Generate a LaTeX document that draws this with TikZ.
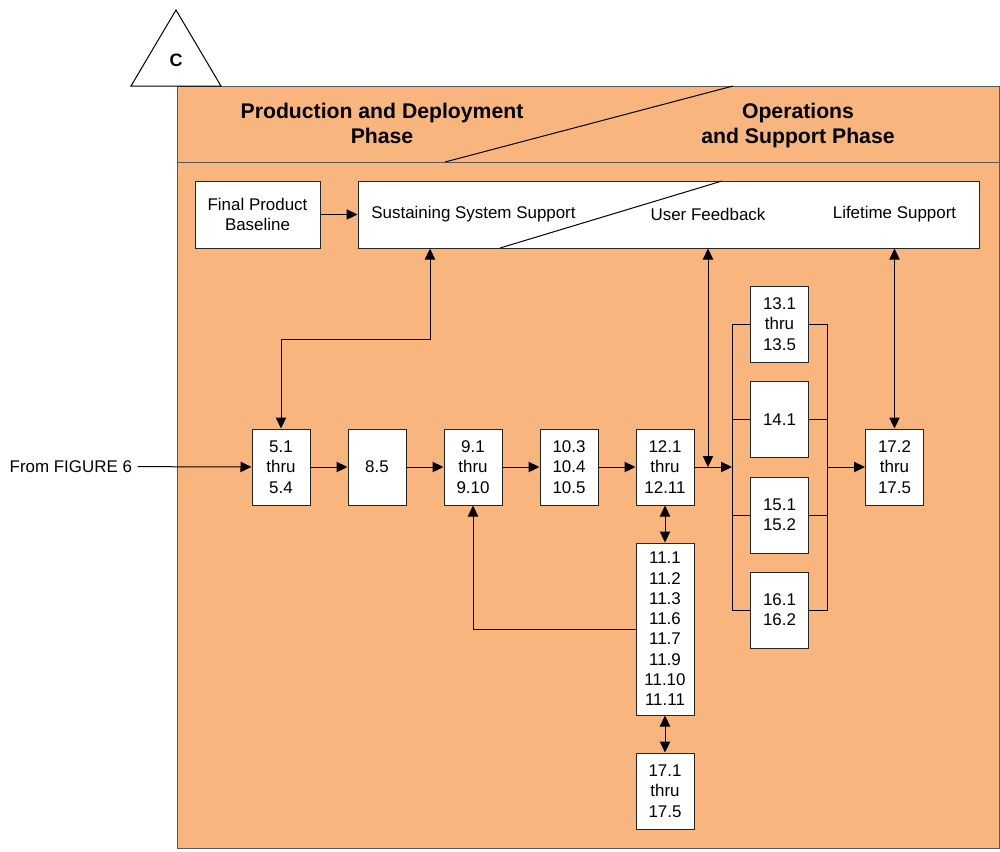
\documentclass[tikz,border=0pt]{standalone}
\usepackage{fontspec}
\setmainfont{Liberation Sans}
\usetikzlibrary{arrows.meta}
\definecolor{phaseorange}{HTML}{F8B57E}

\tikzset{
  blk/.style={draw=black!85, fill=white, minimum width=43.5pt, minimum height=57pt,
    align=center, inner sep=0pt, font=\fontsize{12.7}{15.2}\selectfont},
  lbl/.style={align=center, inner sep=0pt, font=\fontsize{12.7}{15.2}\selectfont},
  title/.style={align=center, inner sep=0pt, font=\fontsize{15.9}{18.75}\selectfont\bfseries},
}

\begin{document}
\begin{tikzpicture}[x=0.75pt,y=-0.75pt,line width=0.75pt,>={Triangle[length=8.25pt,width=7.75pt]}]
  \useasboundingbox (0,0) rectangle (1000,851);
  % phase frame and header
  \draw[fill=phaseorange,draw=black!65] (177,86) rectangle (999,848);
  \draw[black!65] (177,162) -- (999,162);
  \draw (445,162) -- (733,86);
  \node[title,anchor=north] (pdp) at (382,102.5) {Production and Deployment\\Phase};
  \node[title,anchor=north] (osp) at (798,102.5) {Operations\\and Support Phase};
  % off-page marker
  \draw[fill=white] (176,10) -- (221,86) -- (131,86) -- cycle;
  \node[title,font=\fontsize{13.5}{16}\selectfont\bfseries] (mark) at (176,60) {C};
  % top row
  \node[blk,minimum width=93.75pt,minimum height=50.25pt] (fpb) at (257.5,214.5) {Final Product\\Baseline};
  \node[blk,minimum width=465.75pt,minimum height=50.25pt] (sup) at (668.5,214.5) {};
  \draw (500,248) -- (722,181);
  \node[lbl] (sss) at (473.5,214) {Sustaining System Support};
  \node[lbl] (uf) at (708,214) {User Feedback};
  \node[lbl] (lts) at (894.5,214) {Lifetime Support};
  \draw[->] (fpb) -- (sup);
  % main row
  \node[lbl,anchor=east,inner xsep=3.75pt] (fig6) at (137.5,466.5) {From FIGURE 6};
  \node[blk] (b51) at (281,467) {5.1\\thru\\5.4};
  \node[blk] (b85) at (377,467) {8.5};
  \node[blk] (b91) at (473,467) {9.1\\thru\\9.10};
  \node[blk] (b103) at (569,467) {10.3\\10.4\\10.5};
  \node[blk] (b121) at (665,467) {12.1\\thru\\12.11};
  \node[blk,minimum height=129pt] (b11) at (665,629) {11.1\\11.2\\11.3\\11.6\\11.7\\11.9\\11.10\\11.11};
  \node[blk] (b171) at (665,791) {17.1\\thru\\17.5};
  \node[blk] (b131) at (779.5,324) {13.1\\thru\\13.5};
  \node[blk] (b141) at (779.5,419.5) {14.1};
  \node[blk] (b151) at (779.5,515) {15.1\\15.2};
  \node[blk] (b161) at (779.5,610) {16.1\\16.2};
  \node[blk] (b172) at (894.5,467) {17.2\\thru\\17.5};
  \coordinate (busl) at (732,467);
  \coordinate (busr) at (827,467);
  \coordinate (sssbend) at (430,339);
  % connectors
  \draw[->] (fig6) -- (b51);
  \foreach \a/\b in {b51/b85,b85/b91,b91/b103,b103/b121}
    \draw[->] (\a) -- (\b);
  \draw[<->] (b51.north) |- (sssbend) -- (sssbend |- sup.south);
  \draw[<->] (b121) -- (b11);
  \draw[<->] (b11) -- (b171);
  \draw[->] (b11.west) -| (b91.south);
  \draw (b131.west) -- (b131.west -| busl) -- (b161.west -| busl) -- (b161.west);
  \draw (b131.east) -- (b131.east -| busr) -- (b161.east -| busr) -- (b161.east);
  \foreach \n in {b141,b151} {
    \draw (\n.west) -- (\n.west -| busl);
    \draw (\n.east) -- (\n.east -| busr);
  }
  \draw[->] (b121) -- (busl);
  \draw[<->] (uf |- sup.south) -- (uf |- busl);
  \draw[->] (busr) -- (b172);
  \draw[<->] (lts |- sup.south) -- (b172);
\end{tikzpicture}
\end{document}
